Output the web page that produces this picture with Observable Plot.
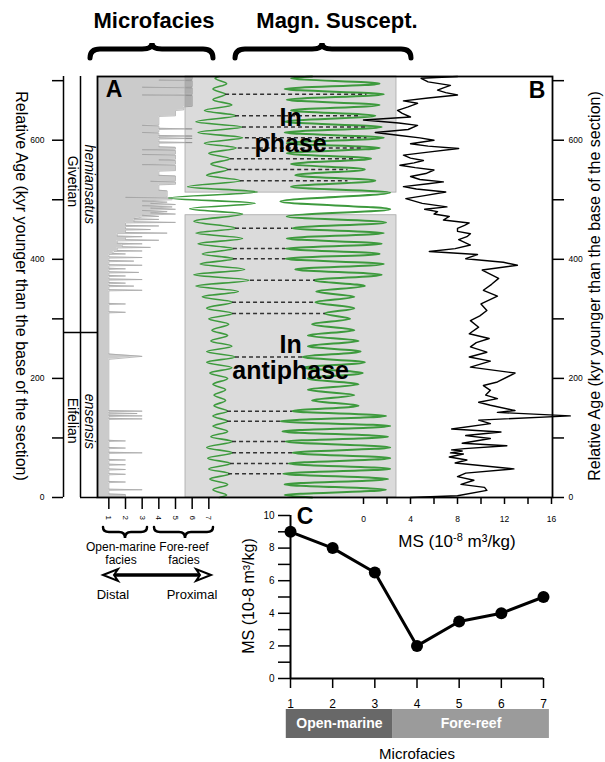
<!DOCTYPE html>
<html><head><meta charset="utf-8">
<script src="https://cdn.jsdelivr.net/npm/d3@7"></script>
<script src="https://cdn.jsdelivr.net/npm/@observablehq/plot@0.6"></script>
<style>
html,body{margin:0;padding:0;background:#fff;}
#chart{position:relative;width:605px;height:762px;font-family:"Liberation Sans",Arial,sans-serif;}
#chart svg{position:absolute;left:0;top:0;}
</style></head><body><div id="chart"></div>
<script>
// ---------------- DATA ----------------
// Stratigraphy
const stageNames = ["Eifelian", "Givetian"];
const stageLabelAge = [129, 531];
const zoneNames = ["ensensis", "hemiansatus"];
const zoneLabelAge = [128, 526];
const stageBoundaryAge = 277;
const ageTicks = [0, 100, 200, 300, 400, 500, 600, 700];
const ageLabels = [0, 200, 400, 600];

// Panel A: microfacies record [age kyr, microfacies]
const faciesRecord = [
[0,2],[5,2],[6,1],[12,1],[13,3],[14,1],[25,1],[26,2],[27,1],[38,1],[39,2],[40,1],[46,1],[47,2],[48,1],[54,1],[55,2],[56,1],[62,1],[63,2],[64,1],[74,1],[75,3],[76,1],[82,1],[83,2],[84,1],[94,1],[95,2],[96,1],[131,1],[132,3],[133,1],[136,1],[137,3],[138,1],[140,1],[141,2.7],[142,1],[144,1],[145,3],[146,1],[232,1],[237,3],[241,1],[310,1],[311,2],[312,1],[324,1],[325,2],[326,1],[347,1],[348,3],[349,1],
[354,1],[355,2.5],[356,1],[359,1],[360,2],[361,1],[365,1],[366,3],[367,1],[371,1],[372,2],[373,1],[377,1],[378,2.8],[379,1],[383,1],[384,2],[385,1],[389,1],[390,3],[391,1],[396,1],[397,2.5],[398,1],[402,1],[403,3],[404,1],[408,1],[409,2],[410,1.2],[413,1.3],[414,3],[415,1.5],
[419,1.5],[420,3.5],[421,1.8],[425,1.8],[426,3],[427,1.5],[431,1.5],[432,4],[433,2],[437,2],[438,3],[439,1.5],[443,1.5],[444,4.5],[445,2],[449,2],[450,3.5],[451,2],[455,2],[456,4],[457,2],[461,2],[462,5],[463,2.5],[466,2.5],[467,4],[468,2.5],[471,3],
[472,4],[474,3],[476,5],[478,3.5],[480,4.5],[482,3],[484,5],[486,3.5],[488,4.8],[490,3],[492,5],[494,3.5],[496,4.5],[498,3],[500,4.8],[503,4.8],[504,2],[505,4.5],
[515,4.5],[516,4],[525,4],[526,5],[530,5],[531,3.5],[532,5],[540,5],[541,4],[548,4],[549,5],
[558,5],[559,3],[560,5],[566,5],[567,4],[568,5],[575,5],[576,3],[577,5],[583,5],[584,3],[585,5],[588,5],[589,4],
[595,4],[596,6],[597,4],[602,4],[603,6],[604,4],[606,4],[607,6],[608,4],[612,4],[613,3],[614,4],[618,4],[619,6],[620,4],[624,4],[625,3],[626,4],
[640,4],[641,5],[650,5],[651,5.5],[656,5.5],[657,6],
[675,6],[676,3],[677,6],[688,6],[689,3],[690,6],[700,6],[701,4],[702,6],[707,6]
];
const faciesTicks = [1, 2, 3, 4, 5, 6, 7];

// Filtered curves (relative position inside the filter panel, 0-100) [age, value]
const filterMicrofacies = [
[0,16],[4,19.5],[13,13],[22,20],[31,11.5],[40,21],[48,11],[57,21.3],[66,10.5],[75,22.3],[84,10],[94,22.3],[102,12],[111,20],[120,13],[128,19.9],[137,13],[145,19.9],[154,13.5],[163,19],[172,13.5],[181,19],[190,13],[200,20],[209,11.5],[218,22],[227,10],[236,23.5],[245,10],[254,22],[263,12],[272,20],[281,12.5],[291,20.5],[300,11],[309,22.3],[318,10],[328,22.3],[337,8],[346,25],[355,5],[365,30],[374,4],[383,28],[392,7],[401,23],[409,8],[418,23],[426,6],[435,27],[444,5],[452,24],[464,4],[476,27],[485,2],[494,33],[503,-8],[513,34],[522,1],[532,26],[541,10],[551,20],[560,12],[569,21],[578,11],[587,24],[595,9],[604,27],[613,6],[622,27],[631,5],[641,24],[650,9],[659,22],[668,13],[677,19],[686,13],[695,19.5],[704,14],[707,16]
];
const filterMS = [
[0,60],[4,47],[13,95],[22,47],[31,96],[40,46.4],[48,97],[57,48.8],[66,97],[75,50.7],[84,97],[94,47.4],[102,96],[111,46],[120,97],[128,45],[137,95],[145,50.7],[154,82],[163,60],[172,80],[181,58],[190,82],[200,58],[209,84],[218,56],[227,85],[236,55.5],[245,83],[254,58],[263,82],[272,58],[281,80],[291,60],[300,78],[309,66],[318,80],[328,61.6],[337,80],[346,62],[355,85],[365,61],[374,93],[383,52],[392,94],[401,47.4],[409,92],[418,47.4],[426,93],[435,48],[444,94],[452,50.7],[462,95],[472,48],[484,97],[497,45],[512,97],[522,50],[532,90],[541,52],[551,85],[560,50],[569,88],[578,48],[587,92],[595,48],[604,94],[613,47],[622,93],[631,47],[641,90],[650,50],[659,92],[668,48],[677,94],[686,47],[695,92],[704,50],[707,60]
];
const phaseBoxFrom = [0, 512];
const phaseBoxTo = [474, 707];
const phaseLabels = ["In\nantiphase", "In\nphase"];
const phaseLabelAge = [235, 616];
const dashAge  = [40,57,75,94,128,145,236,309,328,365,401,418,452,532,551,569,587,604,622,641,677];
const dashFrom = [20.4,21.3,22.3,22.3,19.9,19.9,23.7,22.3,22.3,30.8,22.7,22.7,23.7,26,20,21.3,25,28.4,27,23.7,19];
const dashTo   = [46.4,48.8,50.7,47.4,45,50.7,55.5,66.4,61.6,61.6,47.4,47.4,50.7,77,77,79.6,84,86,85.3,82,86];

// Panel B: magnetic susceptibility [age kyr, MS 10^-8 m3/kg]
const msRecord = [
[0,4.0],[3,8.0],[12,10.5],[17,10.3],[22,8.3],[29,9.4],[35,8.0],[41,8.7],[48,12.8],[58,7.8],[63,8.8],[68,7.3],[73,8.5],[75,7.4],[78,8.4],[80,7.5],[82,8.6],[87,12.2],[91,8.4],[99,10.8],[104,8.7],[110,11.7],[115,7.5],[124,10.8],[130,9.8],[137,17.6],[143,11.4],[146,12.9],[155,10.8],[160,9.8],[166,11.4],[172,10.4],[180,10.8],[188,10.2],[194,11.4],[209,12.9],[219,9.1],[229,10.8],[236,9.0],[244,10.5],[253,9.1],[260,9.6],[267,10.7],[275,9.0],[286,9.8],[297,9.1],[305,9.9],[314,10.5],[325,10.0],[338,11.4],[348,10.2],[358,10.9],[368,11.5],[382,10.1],[390,13.1],[395,11.9],[401,8.7],[408,9.7],[413,5.6],[418,7.8],[424,9.1],[433,8.1],[438,8.8],[443,9.1],[447,8.0],[452,8.0],[457,8.6],[461,9.0],[466,6.8],[472,7.3],[476,6.0],[480,6.3],[484,5.2],[488,7.1],[494,5.0],[502,3.6],[507,5.2],[513,7.0],[518,4.5],[522,3.4],[527,5.5],[530,6.8],[534,4.8],[539,4.0],[544,5.3],[550,6.0],[554,4.4],[558,3.1],[562,4.3],[566,5.1],[570,4.0],[575,3.4],[580,5.5],[586,8.1],[590,5.5],[594,4.0],[600,6.0],[604,4.8],[608,3.1],[613,1.0],[618,3.8],[625,4.6],[629,3.0],[634,0.0],[639,4.0],[645,3.3],[650,2.9],[656,3.8],[662,4.6],[666,3.4],[671,5.5],[676,8.0],[680,7.0],[684,6.3],[688,6.8],[692,7.4],[698,5.5],[704,4.9],[707,8.0]
];
const msTicks = [0, 2, 4, 6, 8, 10, 12, 14, 16];
const msLabels = [0, 4, 8, 12, 16];

// Panel C: mean MS per microfacies
const cFacies = [1, 2, 3, 4, 5, 6, 7];
const cMS = [9, 8, 6.5, 2, 3.5, 4, 5];
const cYTicks = [0,1,2,3,4,5,6,7,8,9,10];
const cYLabels = [0,2,4,6,8,10];
const groupNames = ["Open-marine", "Fore-reef"];
const groupStart = [0.9, 3.42];
const groupEnd = [3.42, 7.14];

// ---------------- LAYOUT ----------------
const W = 605, H = 762;
const FONT = "Liberation Sans, Arial, sans-serif";
const GREEN = "#3d9a3d";
const barColors = {"Open-marine": "#686868", "Fore-reef": "#9b9b9b"};
const styleBase = {background: "none", overflow: "visible", fontFamily: FONT};
const ageFrame = {width: W, height: H, marginTop: 76, marginBottom: 265, y: {domain: [0, 707], axis: null}, style: styleBase};
const pairs = (arr, k) => arr.map(([age, v]) => ({age, [k]: v}));
const intFmt = d => String(d);

const chart = document.getElementById("chart");

// Stratigraphic columns + left age axis
const stages = stageNames.map((name, i) => ({name, age: stageLabelAge[i]}));
const zones = zoneNames.map((name, i) => ({name, age: zoneLabelAge[i]}));
chart.append(Plot.plot({
  ...ageFrame, marginLeft: 63, marginRight: W - 97,
  x: {domain: [0, 2], axis: null},
  marks: [
    Plot.axisY({anchor: "left", ticks: ageTicks, tickFormat: d => ageLabels.includes(d) ? d : "", tickSize: 11, tickPadding: 8, fontSize: 8.5, label: null, strokeWidth: 1.5}),
    Plot.ruleX([0, 1], {strokeWidth: 1.5}),
    Plot.ruleY([stageBoundaryAge], {x1: 0, x2: 2, strokeWidth: 1.5}),
    Plot.ruleY([0], {x1: 1, x2: 2, strokeWidth: 1.5}),
    Plot.text(stages, {x: 0.5, y: "age", text: "name", rotate: 90, fontSize: 14}),
    Plot.text(zones, {x: 1.5, y: "age", text: "name", rotate: 90, fontSize: 14, fontStyle: "italic"})
  ]
}));

// Panel A: microfacies
const faciesData = pairs(faciesRecord, "f");
chart.append(Plot.plot({
  ...ageFrame, marginLeft: 97, marginRight: W - 552,
  x: {domain: [0.32, 27.62], axis: null},
  marks: [
    Plot.areaX(faciesData, {y: "age", x1: 0, x2: "f", fill: "#cbcbcb", clip: true}),
    Plot.lineX(faciesData, {y: "age", x: "f", stroke: "#a0a0a0", strokeWidth: 0.7}),
    Plot.axisX({anchor: "bottom", ticks: faciesTicks, tickFormat: intFmt, tickSize: 12, tickPadding: 6, tickRotate: 90, fontSize: 8, label: null, strokeWidth: 1.5})
  ]
}));

// Filter panel: phase boxes, filtered curves, tie lines
const boxes = phaseBoxFrom.map((from, i) => ({from, to: phaseBoxTo[i]}));
const dashes = dashAge.map((age, i) => ({age, from: dashFrom[i], to: dashTo[i]}));
const phaseText = phaseLabels.map((label, i) => ({label, age: phaseLabelAge[i]}));
chart.append(Plot.plot({
  ...ageFrame, marginLeft: 185, marginRight: W - 396,
  x: {domain: [0, 100], axis: null},
  marks: [
    Plot.rect(boxes, {y1: "from", y2: "to", fill: "#000", fillOpacity: 0.14, stroke: "#a8a8a8", strokeWidth: 0.8}),
    Plot.lineX(pairs(filterMicrofacies, "v"), {x: "v", y: "age", curve: "monotone-y", stroke: GREEN, strokeWidth: 1.6}),
    Plot.lineX(pairs(filterMS, "v"), {x: "v", y: "age", curve: "monotone-y", stroke: GREEN, strokeWidth: 2}),
    Plot.ruleY(dashes, {y: "age", x1: "from", x2: "to", stroke: "#333", strokeWidth: 1.5, strokeDasharray: "4,3"}),
    Plot.text(phaseText, {x: 49.8, y: "age", text: "label", fontSize: 25, fontWeight: "bold", lineHeight: 1.05, fill: "#000"})
  ]
}));

// Panel B: MS curve, frame, axes
chart.append(Plot.plot({
  ...ageFrame, marginLeft: 97, marginRight: W - 552,
  x: {domain: [-22.638, 16.085], axis: null},
  marks: [
    Plot.lineX(pairs(msRecord, "ms"), {x: "ms", y: "age", stroke: "#000", strokeWidth: 1.4, strokeLinejoin: "round"}),
    Plot.frame({stroke: "#000", strokeWidth: 1.8}),
    Plot.axisX({anchor: "bottom", ticks: msTicks, tickFormat: d => msLabels.includes(d) ? String(d) : "", tickSize: 7, tickPadding: 11, fontSize: 8.5, label: null, strokeWidth: 1.5}),
    Plot.axisY({anchor: "right", ticks: ageTicks, tickFormat: d => ageLabels.includes(d) ? String(d) : "", tickSize: 11, tickPadding: 5, fontSize: 8.5, label: null, strokeWidth: 1.5})
  ]
}));

// Panel C
const cData = cFacies.map((f, i) => ({f, ms: cMS[i]}));
chart.append(Plot.plot({
  width: W, height: H, marginLeft: 290, marginRight: W - 543, marginTop: 515, marginBottom: H - 678,
  style: styleBase,
  x: {domain: [1, 7], axis: null}, y: {domain: [0, 10], axis: null},
  marks: [
    Plot.axisY({anchor: "left", ticks: cYTicks, tickFormat: d => cYLabels.includes(d) ? String(d) : "", tickSize: 12, tickPadding: 4, fontSize: 10, label: null, strokeWidth: 1.5}),
    Plot.axisX({anchor: "bottom", ticks: cFacies, tickFormat: intFmt, tickSize: 10, tickPadding: 11, fontSize: 12, label: null, strokeWidth: 1.5}),
    Plot.ruleX([1], {strokeWidth: 2}),
    Plot.ruleY([0], {strokeWidth: 2}),
    Plot.line(cData, {x: "f", y: "ms", stroke: "#000", strokeWidth: 3}),
    Plot.dot(cData, {x: "f", y: "ms", r: 6, fill: "#000"})
  ]
}));

// Facies group bar
const groups = groupNames.map((name, i) => ({name, from: groupStart[i], to: groupEnd[i]}));
chart.append(Plot.plot({
  width: W, height: H, marginLeft: 290, marginRight: W - 543, marginTop: 709, marginBottom: H - 738,
  style: styleBase,
  x: {domain: [1, 7], axis: null},
  marks: [
    Plot.rect(groups, {x1: "from", x2: "to", fill: d => barColors[d.name]}),
    Plot.text(groups, {x: d => (d.from + d.to) / 2, text: "name", frameAnchor: "middle", fill: "#fff", fontWeight: "bold", fontSize: 14})
  ]
}));

// Annotations
const brUp = (x1, x2, xm, yb, ym, yt) => `M${x1},${yb} Q${x1},${ym} ${x1+10},${ym} L${xm-10},${ym} Q${xm},${ym} ${xm},${yt} Q${xm},${ym} ${xm+10},${ym} L${x2-10},${ym} Q${x2},${ym} ${x2},${yb}`;
const brDown = (x1, x2, xm, yt, ym, yb) => `M${x1},${yt} Q${x1},${ym} ${x1+6},${ym} L${xm-6},${ym} Q${xm},${ym} ${xm},${yb} Q${xm},${ym} ${xm+6},${ym} L${x2-6},${ym} Q${x2},${ym} ${x2},${yt}`;
chart.insertAdjacentHTML("beforeend", `
<svg width="${W}" height="${H}" style="overflow:visible;pointer-events:none" font-family="${FONT}">
  <text x="154" y="28" font-size="22" font-weight="bold" text-anchor="middle">Microfacies</text>
  <text x="337" y="28" font-size="22" font-weight="bold" text-anchor="middle">Magn. Suscept.</text>
  <path d="${brUp(90, 213, 152, 58, 49, 43)}" fill="none" stroke="#000" stroke-width="5" stroke-linecap="round"/>
  <path d="${brUp(235, 411, 322, 58, 49, 43)}" fill="none" stroke="#000" stroke-width="5" stroke-linecap="round"/>
  <text x="114" y="97" font-size="23" font-weight="bold" text-anchor="middle">A</text>
  <text x="537" y="98" font-size="23" font-weight="bold" text-anchor="middle">B</text>
  <text transform="translate(20,286) rotate(90)" font-size="16" text-anchor="middle" dominant-baseline="middle">Relative Age (kyr younger than the base of the section)</text>
  <text transform="translate(596,286) rotate(-90)" font-size="16" text-anchor="middle" dominant-baseline="middle">Relative Age (kyr younger than the base of the section)</text>
  <path d="${brDown(103, 147, 125, 527, 532, 538)}" fill="none" stroke="#000" stroke-width="2.5" stroke-linecap="round"/>
  <path d="${brDown(154, 213, 185, 527, 532, 538)}" fill="none" stroke="#000" stroke-width="2.5" stroke-linecap="round"/>
  <text x="121" y="551" font-size="12" text-anchor="middle">Open-marine</text>
  <text x="121" y="564" font-size="12" text-anchor="middle">facies</text>
  <text x="184" y="551" font-size="12" text-anchor="middle">Fore-reef</text>
  <text x="184" y="564" font-size="12" text-anchor="middle">facies</text>
  <line x1="112" y1="575" x2="202" y2="575" stroke="#000" stroke-width="3.5"/>
  <polygon points="103,575 118,569 114,575 118,581" fill="#fff" stroke="#000" stroke-width="2" stroke-linejoin="miter"/>
  <polygon points="211,575 196,569 200,575 196,581" fill="#fff" stroke="#000" stroke-width="2" stroke-linejoin="miter"/>
  <text x="113" y="599" font-size="13" text-anchor="middle">Distal</text>
  <text x="192" y="599" font-size="13" text-anchor="middle">Proximal</text>
  <text x="457" y="547" font-size="17" text-anchor="middle">MS (10<tspan dy="-6" font-size="11">-8</tspan><tspan dy="6"> m³/kg)</tspan></text>
  <text x="305" y="524" font-size="23" font-weight="bold" text-anchor="middle">C</text>
  <text transform="translate(250,596) rotate(-90)" font-size="16" text-anchor="middle" dominant-baseline="middle">MS (10-8 m³/kg)</text>
  <text x="417" y="759" font-size="15" text-anchor="middle">Microfacies</text>
</svg>`);
</script></body></html>
